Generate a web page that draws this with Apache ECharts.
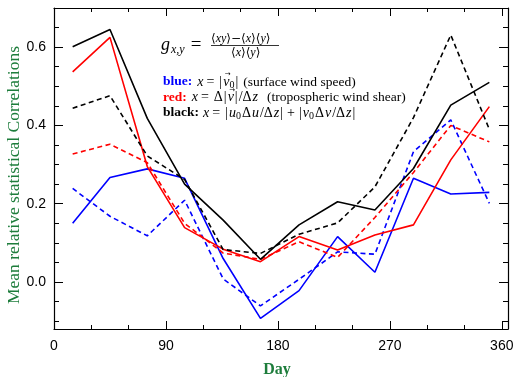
<!DOCTYPE html>
<html>
<head>
<meta charset="utf-8">
<script src="https://cdn.jsdelivr.net/npm/echarts@6/dist/echarts.min.js"></script>
<style>
  html, body { margin: 0; padding: 0; background: #fff; }
  #chart { width: 520px; height: 377px; }
</style>
</head>
<body>
<div id="chart"></div>
<script>
// mid-month days
const days = [15, 45, 75, 105, 136, 166, 197, 228, 258, 289, 319, 350];

const blueSolid   = [0.150, 0.267, 0.289, 0.265, 0.060, -0.093, -0.022, 0.116, 0.025, 0.265, 0.225, 0.229];
const blueDashed  = [0.239, 0.168, 0.118, 0.209, 0.008, -0.061, 0.007, 0.077, 0.071, 0.333, 0.414, 0.201];
const redSolid    = [0.537, 0.625, 0.295, 0.139, 0.084, 0.052, 0.116, 0.082, 0.120, 0.146, 0.312, 0.448];
const redDashed   = [0.327, 0.352, 0.305, 0.150, 0.074, 0.058, 0.103, 0.063, 0.165, 0.280, 0.400, 0.358];
const blackSolid  = [0.601, 0.645, 0.418, 0.250, 0.158, 0.058, 0.146, 0.205, 0.184, 0.290, 0.452, 0.510];
const blackDashed = [0.444, 0.476, 0.322, 0.262, 0.083, 0.073, 0.122, 0.151, 0.243, 0.420, 0.631, 0.390];

const xMajor = [0, 90, 180, 270, 360];
const xMinor = [30, 60, 120, 150, 210, 240, 300, 330];
const yMajor = [0, 0.2, 0.4, 0.6];
const yMinor = [-0.1, -0.05, 0.05, 0.1, 0.15, 0.25, 0.3, 0.35, 0.45, 0.5, 0.55, 0.65];

const green = '#1e7d3c';
const serif = '"Liberation Serif", "DejaVu Serif", serif';

const pairs = vals => vals.map((v, i) => [days[i], v]);

const xAxisDef = (pos, ticks, len, main) => ({
  type: 'value', position: pos, min: 0, max: 365,
  splitLine: { show: false },
  axisLine: { show: main, onZero: false, lineStyle: { color: '#000', width: 1.2 } },
  axisTick: { show: true, inside: true, length: len, customValues: ticks, lineStyle: { color: '#000', width: 1 } },
  axisLabel: { show: main && pos === 'bottom', customValues: ticks, margin: 10,
    fontFamily: '"Liberation Sans", Arial, sans-serif', fontSize: 14, color: '#000' },
  name: main && pos === 'bottom' ? 'Day' : '',
  nameLocation: 'middle', nameGap: 33,
  nameTextStyle: { fontFamily: serif, fontSize: 16, fontWeight: 'bold', color: green, padding: [0, 8, 0, 0] }
});

const yAxisDef = (pos, ticks, len, main) => ({
  type: 'value', position: pos, min: -0.12, max: 0.7,
  splitLine: { show: false },
  axisLine: { show: main, onZero: false, lineStyle: { color: '#000', width: 1.2 } },
  axisTick: { show: true, inside: true, length: len, customValues: ticks, lineStyle: { color: '#000', width: 1 } },
  axisLabel: { show: main && pos === 'left', customValues: ticks, margin: 8,
    formatter: v => v.toFixed(1),
    fontFamily: '"Liberation Sans", Arial, sans-serif', fontSize: 14, color: '#000' },
  name: main && pos === 'left' ? 'Mean relative statistical Correlations' : '',
  nameLocation: 'middle', nameGap: 31, nameMoveOverlap: false,
  nameTextStyle: { fontFamily: serif, fontSize: 17.5, color: green, padding: [0, 13, 0, 0] }
});

const line = (name, vals, color, dashed) => ({
  name, type: 'line', xAxisIndex: 0, yAxisIndex: 0,
  data: pairs(vals), symbol: 'none', silent: true,
  lineStyle: { color, width: 1.6, type: dashed ? [5, 3.5] : 'solid' }
});

// lay out a line of math-ish text from segments, measuring each piece
const measureCtx = document.createElement('canvas').getContext('2d');
const mathLine = (x0, y, segs) => {
  const out = [];
  let x = x0;
  segs.forEach(s => {
    const font = s.font || M;
    measureCtx.font = font;
    const w = measureCtx.measureText(s.t).width;
    out.push({ type: 'text', x: x, y: y + (s.dy || 0), silent: true,
      style: { text: s.t, font: font, fill: s.c || '#000', verticalAlign: 'middle' } });
    if (s.arrow) {
      out.push({ type: 'text', x: x + w / 2 + 1.5, y: y - 7.5, silent: true,
        style: { text: '→', font: '7px "DejaVu Sans"', fill: '#000', align: 'center', verticalAlign: 'middle' } });
    }
    x += w + (s.gap || 0);
  });
  return out;
};

const M = '14px ' + serif;          // upright math
const I = 'italic 14px ' + serif;   // italic math
const T = '13.5px ' + serif;        // plain text
const B = 'bold 13.5px ' + serif;   // coloured labels
const S = '10px ' + serif;          // subscript
const A = '12px "DejaVu Serif"';    // angle brackets
const AI = 'italic 12px ' + serif;

const graphics = [].concat(
  mathLine(161, 45, [
    { t: 'g', font: 'italic 18px ' + serif, gap: 1 },
    { t: 'x,y', font: 'italic 12px ' + serif, dy: 5, gap: 6 },
    { t: '=', font: '19px ' + serif }
  ]),
  mathLine(211, 39, [
    { t: '⟨', font: A }, { t: 'xy', font: AI }, { t: '⟩−⟨', font: A },
    { t: 'x', font: AI }, { t: '⟩⟨', font: A },
    { t: 'y', font: AI }, { t: '⟩', font: A }
  ]),
  mathLine(231, 53, [
    { t: '⟨', font: A }, { t: 'x', font: AI }, { t: '⟩⟨', font: A },
    { t: 'y', font: AI }, { t: '⟩', font: A }
  ]),
  [{ type: 'line', silent: true, shape: { x1: 211, y1: 45.5, x2: 279, y2: 45.5 }, style: { stroke: '#000', lineWidth: 0.8 } }],
  mathLine(163, 82, [
    { t: 'blue:', font: B, c: '#0000ff', gap: 5 },
    { t: 'x', font: I, gap: 3 }, { t: '=', gap: 5 }, { t: '|', gap: 1 },
    { t: 'v', font: I, arrow: true }, { t: '0', font: S, dy: 3, gap: 1 }, { t: '|', gap: 5 },
    { t: '(surface wind speed)', font: T }
  ]),
  mathLine(163, 97.5, [
    { t: 'red:', font: B, c: '#ff0000', gap: 5 },
    { t: 'x', font: I, gap: 3 }, { t: '=', gap: 5 }, { t: 'Δ', gap: 1 }, { t: '|', gap: 1 },
    { t: 'v', font: I, arrow: true, gap: 1 }, { t: '|', gap: 1 }, { t: '/' }, { t: 'Δ', gap: 1 },
    { t: 'z', font: I, gap: 9 },
    { t: '(tropospheric wind shear)', font: T }
  ]),
  mathLine(163, 113, [
    { t: 'black:', font: B, c: '#000', gap: 4 },
    { t: 'x', font: I, gap: 3 }, { t: '=', gap: 5 }, { t: '|', gap: 1 },
    { t: 'u', font: I }, { t: '0', font: S, dy: 3, gap: 1 }, { t: 'Δ', gap: 1 }, { t: 'u', font: I, gap: 1 },
    { t: '/' }, { t: 'Δ', gap: 1 }, { t: 'z', font: I, gap: 1 },
    { t: '|', gap: 4 }, { t: '+', gap: 4 }, { t: '|', gap: 1 },
    { t: 'v', font: I }, { t: '0', font: S, dy: 3, gap: 1 }, { t: 'Δ', gap: 1 }, { t: 'v', font: I, gap: 1 },
    { t: '/' }, { t: 'Δ', gap: 1 }, { t: 'z', font: I, gap: 1 },
    { t: '|' }
  ])
);

const chart = echarts.init(document.getElementById('chart'));
chart.setOption({
  animation: false,
  backgroundColor: '#fff',
  grid: { left: 54, right: 12, top: 8, bottom: 48, outerBoundsMode: 'none', containLabel: false },
  xAxis: [
    xAxisDef('bottom', xMajor, 8, true),
    xAxisDef('bottom', xMinor, 4, false),
    xAxisDef('top', xMajor, 8, true),
    xAxisDef('top', xMinor, 4, false)
  ],
  yAxis: [
    yAxisDef('left', yMajor, 9, true),
    yAxisDef('left', yMinor, 5, false),
    yAxisDef('right', yMajor, 9, true),
    yAxisDef('right', yMinor, 5, false)
  ],
  series: [
    line('blue dashed', blueDashed, '#0000ff', true),
    line('blue', blueSolid, '#0000ff', false),
    line('red dashed', redDashed, '#ff0000', true),
    line('red', redSolid, '#ff0000', false),
    line('black dashed', blackDashed, '#000000', true),
    line('black', blackSolid, '#000000', false)
  ],
  graphic: graphics
});
</script>
</body>
</html>
